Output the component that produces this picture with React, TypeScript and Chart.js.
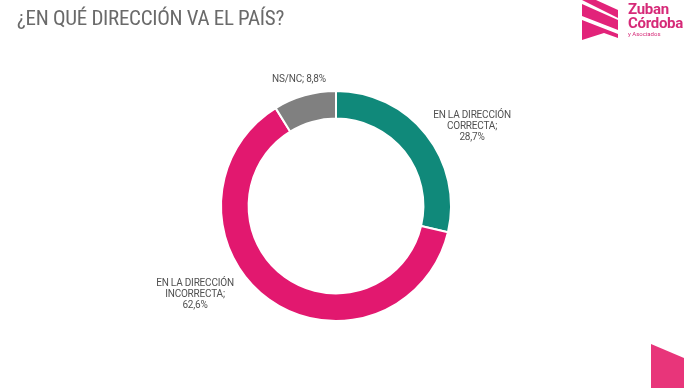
import React, { useEffect, useRef } from "react";
import { Chart, registerables } from "chart.js";

Chart.register(...registerables);

const categories = ["EN LA DIRECCIÓN CORRECTA", "EN LA DIRECCIÓN INCORRECTA", "NS/NC"];
const values = [28.7, 62.6, 8.8];
const colors = ["#10897a", "#e2186f", "#808080"];
const title = "¿EN QUÉ DIRECCIÓN VA EL PAÍS?";
const labelLines = [
  ["EN LA DIRECCIÓN", "CORRECTA;", "28,7%"],
  ["EN LA DIRECCIÓN", "INCORRECTA;", "62,6%"],
  ["NS/NC; 8,8%"],
];

const labelPos = [
  { x: 472, y: 109 },
  { x: 195, y: 277 },
  { x: 299, y: 73 },
];

export default function App() {
  const ref = useRef<HTMLCanvasElement | null>(null);
  useEffect(() => {
    if (!ref.current) return;
    const chart = new Chart(ref.current, {
      type: "doughnut",
      data: {
        labels: categories,
        datasets: [
          {
            data: values,
            backgroundColor: colors,
            borderColor: "#ffffff",
            borderWidth: 2,
          },
        ],
      },
      options: {
        responsive: false,
        animation: false,
        cutout: "76%",
        layout: { padding: { top: 90, bottom: 66, left: 99, right: 112 } },
        plugins: { legend: { display: false }, tooltip: { enabled: false } },
      },
    });
    return () => chart.destroy();
  }, []);

  const textStyle: React.CSSProperties = {
    position: "absolute",
    transform: "translateX(-50%)",
    fontFamily: "Roboto, 'Noto Sans', sans-serif",
    fontSize: 10,
    lineHeight: "11px",
    color: "#505050",
    textAlign: "center",
    whiteSpace: "nowrap",
    letterSpacing: "-0.2px",
  };

  return (
    <div
      style={{
        position: "fixed",
        left: 0,
        top: 0,
        width: 685,
        height: 388,
        background: "#fff",
        overflow: "hidden",
      }}
    >
      <canvas ref={ref} width={685} height={388} style={{ position: "absolute", left: 0, top: 0 }} />
      <div
        style={{
          position: "absolute",
          left: 17,
          top: 6,
          fontFamily: "'Liberation Sans Narrow', 'Roboto Condensed', Roboto, sans-serif",
          fontSize: 21,
          color: "#6a6a6a",
          whiteSpace: "nowrap",
          letterSpacing: "-0.3px",
        }}
      >
        {title}
      </div>
      {labelLines.map((lines, i) => (
        <div key={i} style={{ ...textStyle, left: labelPos[i].x, top: labelPos[i].y }}>
          {lines.map((l, j) => (
            <div key={j}>{l}</div>
          ))}
        </div>
      ))}
      <svg width={45} height={42} style={{ position: "absolute", left: 580, top: 0 }}>
        <polygon points="2,0 16,0 38,10 38,18" fill="#e2237a" />
        <polygon points="2,8 2,4 38,20 38,30 2,16" fill="#e2237a" />
        <polygon points="2,20 38,34 38,38 24,33 2,40" fill="#e2237a" />
      </svg>
      <div
        style={{
          position: "absolute",
          left: 628,
          top: 2,
          fontFamily: "Roboto, sans-serif",
          fontWeight: 700,
          fontSize: 15,
          lineHeight: "14px",
          color: "#d62a78",
          letterSpacing: "-0.3px",
        }}
      >
        <div>Zuban</div>
        <div>Córdoba</div>
        <div style={{ fontSize: 6, fontWeight: 400, lineHeight: "8px", letterSpacing: 0 }}>y Asociados</div>
      </div>
      <svg width={40} height={60} style={{ position: "absolute", left: 648, top: 330 }}>
        <polygon points="3,14 36,28 36,60 3,60" fill="#e8357a" />
      </svg>
    </div>
  );
}
